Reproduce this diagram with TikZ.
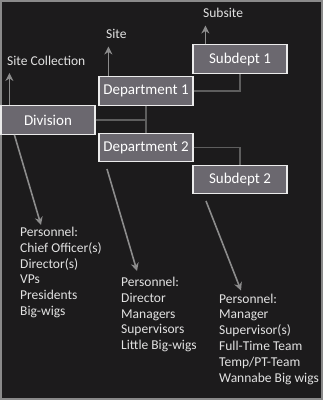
\documentclass[tikz,border=0pt]{standalone}
\usepackage{fontspec}
\setmainfont{Carlito}
\usetikzlibrary{arrows.meta}
\definecolor{bgdark}{HTML}{1C1B1C}
\definecolor{framegray}{HTML}{8A8A8A}
\definecolor{boxgray}{HTML}{6B686F}
\definecolor{linegray}{HTML}{5E5E5E}
\definecolor{arrgray}{HTML}{8C8C8C}
\definecolor{txtlight}{HTML}{E2E2E2}
\tikzset{
	orgbox/.style={draw=white!92!black, line width=1.2pt, fill=boxgray, text=white, minimum width=94pt, minimum height=28.5pt, inner sep=0pt, font=\fontsize{15}{18}\selectfont},
	lbl/.style={text=txtlight, inner sep=0pt, font=\fontsize{13.5}{15.8}\selectfont},
	orgline/.style={draw=linegray, line width=1.5pt},
	ptr/.style={draw=arrgray, line width=1.6pt, -{Stealth[length=8pt,width=8pt]}}
}
\begin{document}
\begin{tikzpicture}[x=1pt,y=-1pt]
		\useasboundingbox (0,0) rectangle (323,400);
		\path[fill=bgdark, draw=framegray, line width=2pt] (1,1) rectangle (322,399);
		% boxes
		\node[orgbox] (div) at (48,120) {Division};
		\node[orgbox] (dep1) at (146,91) {Department 1};
		\node[orgbox] (dep2) at (146,147.5) {Department 2};
		\node[orgbox] (sub1) at (240,59) {Subdept 1};
		\node[orgbox] (sub2) at (240,179.5) {Subdept 2};
		\draw[orgline] (div.east) -- (div.east -| dep1.south);
		\draw[orgline] (dep1.south) -- (dep2.north);
		\draw[orgline] (dep1.east) -| (sub1.south);
		\draw[orgline] (dep2.east) -| (sub2.north);
		% sites
		\node[lbl, anchor=base west] (sitecol) at (7,65) {Site Collection};
		\node[lbl, anchor=base west] (site) at (106,38.5) {Site};
		\node[lbl, anchor=base west] (subsite) at (203,17.5) {Subsite};
		\coordinate (upA) at ([xshift=9pt]div.north west);
		\coordinate (upB) at ([xshift=10pt]dep1.north west);
		\coordinate (upC) at ([xshift=13pt]sub1.north west);
		\draw[ptr] (upA) -- ([yshift=-8pt]sitecol.base -| upA);
		\draw[ptr] (upB) -- ([yshift=-8pt]site.base -| upB);
		\draw[ptr] (upC) -- ([yshift=-8pt]subsite.base -| upC);
		% personnel
		\node[lbl, anchor=north west, align=left] (perA) at (20,227) {Personnel:\\Chief Officer(s)\\Director(s)\\VPs\\Presidents\\Big-wigs};
		\node[lbl, anchor=north west, align=left] (perB) at (121,277) {Personnel:\\Director\\Managers\\Supervisors\\Little Big-wigs};
		\node[lbl, anchor=north west, align=left] (perC) at (219,293.5) {Personnel:\\Manager\\Supervisor(s)\\Full-Time Team\\Temp/PT-Team\\Wannabe Big wigs};
		\coordinate (dnA) at ([xshift=14pt]div.south west);
		\coordinate (dnB) at (107,169);
		\coordinate (dnC) at (206,201);
		\draw[ptr] (dnA) -- ([xshift=21pt,yshift=2pt]perA.north west);
		\draw[ptr] (dnB) -- ([xshift=16pt,yshift=6pt]perB.north west);
		\draw[ptr] (dnC) -- ([xshift=22pt,yshift=3pt]perC.north west);
	\end{tikzpicture}
\end{document}
